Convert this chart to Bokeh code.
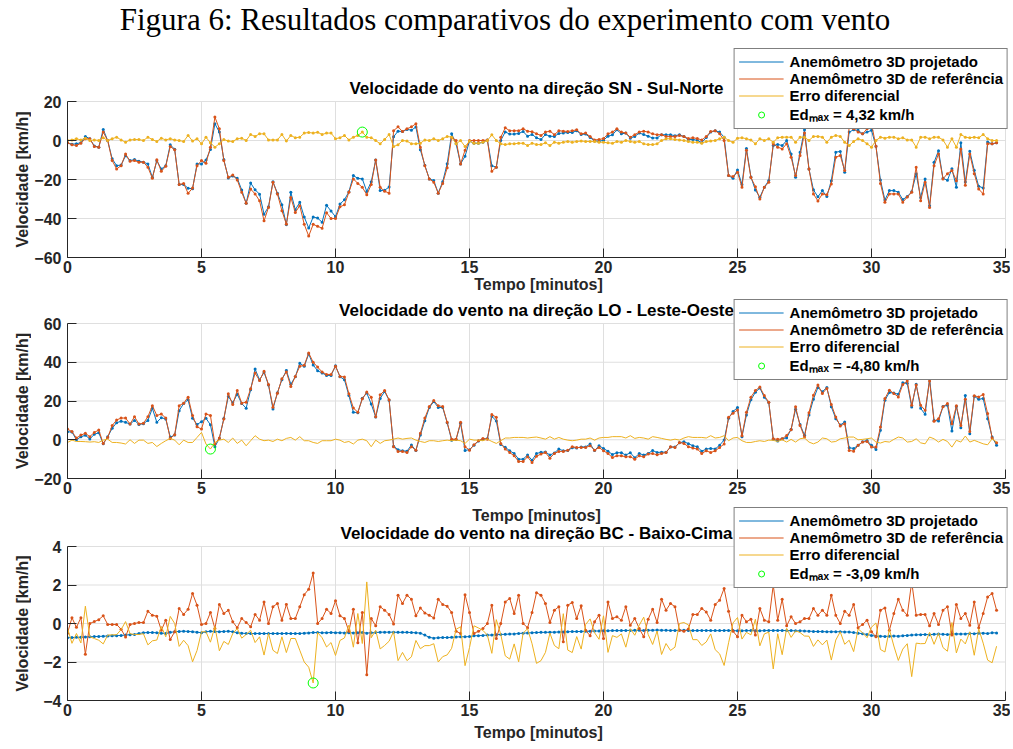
import math
import numpy as np
from bokeh.plotting import figure
from bokeh.models import Range1d, FixedTicker, Legend, LegendItem, Label, Div
from bokeh.layouts import column, row
from bokeh.embed import file_html
from bokeh.resources import INLINE

FIG_TITLE = "Figura 6: Resultados comparativos do experimento com vento"
PANEL_TITLES = ["Velocidade do vento na direção SN - Sul-Norte",
                "Velocidade do vento na direção LO - Leste-Oeste",
                "Velocidade do vento na direção BC - Baixo-Cima"]
X_LABEL = "Tempo [minutos]"
Y_LABEL = "Velocidade [km/h]"
SERIES_NAMES = ["Anemômetro 3D projetado", "Anemômetro 3D de referência", "Erro diferencial"]
X_TICKS = [0, 5, 10, 15, 20, 25, 30, 35]
Y_TICKS = [[-60, -40, -20, 0, 20], [-20, 0, 20, 40, 60], [-4, -2, 0, 2, 4]]
Y_LIMITS = [(-60, 20), (-20, 60), (-4, 4)]
SAMPLE_PERIOD_S = 10

# ---------- Panel 1: SN ----------
sn_ref = [-1.2, -2.2, -2.6, -1.4, 0.9, 0.9, -3.1, -3.4, 4.3, 0.0,
          -10.3, -14.6, -12.9, -6.9, -10.6, -10.3, -11.1, -11.1, -13.7, -19.4,
          -9.9, -15.8, -13.2, -3.1, -4.8, -22.6, -22.0, -27.1, -24.4, -12.9,
          -10.3, -11.7, -3.4, 12.0, 6.0, -10.3, -18.9, -17.7, -20.2, -26.6,
          -32.2, -24.9, -27.4, -30.9, -41.2, -34.3, -21.4, -27.4, -36.0, -42.9,
          -29.2, -36.9, -33.4, -43.0, -49.0, -43.0, -44.0, -45.0, -37.0, -40.0,
          -40.0, -34.0, -33.0, -26.6, -19.7, -22.0, -24.0, -27.8, -22.6, -10.0,
          -24.0, -26.0, -27.0, 5.0, 7.0, 4.6, 6.0, 7.0, 8.6, -3.4,
          -13.0, -19.7, -21.4, -27.0, -22.0, -14.0, 1.7, 0.0, -12.0, -5.0,
          0.0, 0.0, 0.0, 0.0, 0.3, -15.8, -13.7, 1.7, 6.5, 5.0,
          5.0, 5.0, 6.0, 4.8, 4.5, 3.5, 2.6, 4.3, 4.8, 3.0,
          5.0, 4.8, 4.6, 5.0, 5.5, 3.4, 3.8, 2.0, 0.3, 0.5,
          1.0, 3.4, 4.3, 6.0, 4.3, 3.8, 1.7, 3.0, 4.3, 4.8,
          4.3, 3.4, 3.0, 3.0, 2.0, 2.0, 2.0, 2.6, 2.0, 1.0,
          1.4, 1.0, 0.3, 2.0, 4.6, 5.0, 3.4, 0.0, -18.0, -18.5,
          -16.3, -24.0, -5.0, -19.0, -23.7, -30.0, -24.0, -21.4, -1.7, -3.4,
          -4.3, -1.7, -8.6, -18.0, -7.7, 3.8, -14.6, -27.4, -31.0, -27.4,
          -27.8, -22.3, -8.6, -7.7, -15.4, 6.9, 6.0, 4.3, 3.4, 6.0,
          8.6, -3.0, -22.0, -31.7, -27.4, -27.4, -27.4, -31.7, -29.0, -26.6,
          -13.7, -30.9, -21.4, -34.3, -12.9, -6.9, -19.7, -17.0, -15.4, -20.6,
          -4.3, -23.0, -6.9, -17.0, -24.9, -27.4, -1.7, -1.7, -1.2]
sn_err = [0.0, 0.3, 0.9, 0.3, 1.2, 0.0, 0.3, 0.0, 1.4, 0.0,
          0.9, 1.7, 0.3, -0.9, 0.3, 0.5, 0.5, 0.0, 1.7, 0.5,
          -0.5, 1.2, 0.3, 0.9, 0.3, 0.0, -0.5, 2.6, -0.3, 0.9,
          -1.7, 1.7, -1.2, -3.4, -1.7, 0.5, -0.3, -0.5, 0.9, 1.2,
          0.0, 3.1, 2.1, 3.4, 3.4, 0.3, 0.3, 0.3, 3.1, -0.3,
          2.6, 1.4, 1.7, 3.8, 4.1, 3.8, 4.2, 3.1, 3.8, 3.8,
          0.9, 1.4, 2.6, 0.3, 1.7, 2.6, 4.32, 1.7, 1.4, 0.0,
          -1.7, 0.5, 3.1, -3.1, -2.2, 0.0, -0.3, -1.7, -1.7, -1.4,
          0.3, 0.0, 0.9, 0.0, 0.9, 2.1, 1.7, -1.7, 0.0, -3.1,
          -0.3, -1.4, -1.4, -0.9, 0.0, 2.9, 0.0, -1.7, -2.1, -1.7,
          -1.7, -1.4, -1.4, -2.6, -1.4, -2.1, -2.1, -1.2, -2.6, -0.9,
          -1.4, -0.9, -0.5, -0.9, -0.5, -0.3, -0.5, -0.5, -0.5, -0.9,
          -0.9, -1.2, -1.4, -0.5, -0.9, 0.0, -0.5, -0.9, -0.5, -1.7,
          -2.1, -2.1, -1.7, 0.0, 0.9, 0.9, 0.5, 0.3, 0.0, -0.5,
          -0.9, -0.9, -1.4, -0.5, -0.3, 0.0, 0.9, 1.7, 0.0, -0.9,
          1.2, 1.4, 0.9, 0.3, -1.7, 0.9, 0.0, 0.9, -0.9, 1.4,
          1.7, 1.7, 1.7, -0.9, 1.7, 1.7, 0.0, 2.1, 2.1, 1.7,
          -0.9, 1.7, 2.6, 2.1, -0.9, -2.6, -0.5, 0.9, 0.0, -1.7,
          -3.4, 0.0, 1.7, 1.2, 1.7, 1.7, 0.9, 1.4, 0.3, 0.3,
          -3.4, 1.7, 1.7, 0.9, 1.7, 1.7, 0.3, -3.4, 0.9, -3.4,
          3.1, 1.7, 1.4, 1.7, 1.4, 3.1, 0.9, 0.0, 0.0]
sn_proj = [-1.2, -1.9, -1.7, -1.1, 2.1, 0.9, -2.8, -3.4, 5.7, 0.0,
           -9.4, -12.9, -12.6, -7.8, -10.3, -9.8, -10.6, -11.1, -12.0, -18.9,
           -10.4, -14.6, -12.9, -2.2, -4.5, -22.6, -22.5, -24.5, -24.7, -12.0,
           -12.0, -10.0, -4.6, 8.6, 4.3, -9.8, -19.2, -18.2, -19.3, -25.4,
           -32.2, -21.8, -25.3, -27.5, -37.8, -34.0, -21.1, -27.1, -32.9, -43.2,
           -26.6, -35.5, -31.7, -39.2, -44.9, -39.2, -39.8, -41.9, -33.2, -36.2,
           -39.1, -32.6, -30.4, -26.3, -18.0, -19.4, -19.68, -26.1, -21.2, -10.0,
           -25.7, -25.5, -23.9, 1.9, 4.8, 4.6, 5.7, 5.3, 6.9, -4.8,
           -12.7, -19.7, -20.5, -27.0, -21.1, -11.9, 3.4, -1.7, -12.0, -8.1,
           -0.3, -1.4, -1.4, -0.9, 0.3, -12.9, -13.7, 0.0, 4.4, 3.3,
           3.3, 3.6, 4.6, 2.2, 3.1, 1.4, 0.5, 3.1, 2.2, 2.1,
           3.6, 3.9, 4.1, 4.1, 5.0, 3.1, 3.3, 1.5, -0.2, -0.4,
           0.1, 2.2, 2.9, 5.5, 3.4, 3.8, 1.2, 2.1, 3.8, 3.1,
           2.2, 1.3, 1.3, 3.0, 2.9, 2.9, 2.5, 2.9, 2.0, 0.5,
           0.5, 0.1, -1.1, 1.5, 4.3, 5.0, 4.3, 1.7, -18.0, -19.4,
           -15.1, -22.6, -4.1, -18.7, -25.4, -29.1, -24.0, -20.5, -2.6, -2.0,
           -2.6, 0.0, -6.9, -18.9, -6.0, 5.5, -14.6, -25.3, -28.9, -25.7,
           -28.7, -20.6, -6.0, -5.6, -16.3, 4.3, 5.5, 5.2, 3.4, 4.3,
           5.2, -3.0, -20.3, -30.5, -25.7, -25.7, -26.5, -30.3, -28.7, -26.3,
           -17.1, -29.2, -19.7, -33.4, -11.2, -5.2, -19.4, -20.4, -14.5, -24.0,
           -1.2, -21.3, -5.5, -15.3, -23.5, -24.3, -0.8, -1.7, -1.2]

# ---------- Panel 2: LO ----------
lo_ref = [5.5, 4.2, 0.9, 2.4, 3.3, 1.6, 3.8, 5.0, -1.9, 1.2,
          7.3, 10.2, 11.2, 11.2, 8.1, 11.9, 8.1, 8.5, 11.9, 17.6,
          12.5, 13.3, 11.2, 0.7, 2.6, 17.6, 18.9, 22.0, 12.5, 6.7,
          5.5, 13.3, 12.5, -2.2, 0.9, 10.7, 23.7, 18.2, 25.4, 18.9,
          19.4, 26.3, 34.4, 30.6, 35.3, 28.5, 16.8, 24.0, 31.5, 35.0,
          27.5, 32.7, 37.9, 38.4, 44.8, 40.0, 37.5, 35.0, 33.7, 33.7,
          37.9, 32.7, 32.4, 23.7, 16.4, 14.2, 21.1, 24.6, 22.0, 11.9,
          23.2, 25.4, 20.6, -3.6, -6.0, -6.0, -6.6, -3.6, -5.4, 3.3,
          11.2, 17.1, 20.2, 17.6, 17.1, 9.0, 0.3, 0.3, 9.0, -3.6,
          -5.4, -2.6, -0.5, 0.7, 0.3, 13.0, 11.6, -1.9, -4.8, -6.6,
          -8.3, -11.2, -11.2, -8.8, -11.8, -8.5, -7.4, -6.6, -9.5, -7.1,
          -6.0, -6.0, -5.4, -3.6, -4.0, -4.0, -4.0, -3.1, -5.4, -4.0,
          -5.7, -7.1, -9.2, -8.3, -8.3, -8.8, -8.8, -10.0, -8.3, -8.8,
          -7.4, -7.1, -7.8, -7.1, -6.6, -3.6, -4.0, -1.4, -1.9, -3.6,
          -4.3, -4.8, -7.1, -5.7, -6.6, -5.7, -4.0, -2.2, 11.6, 13.7,
          15.4, 2.1, 14.2, 22.0, 25.4, 27.2, 22.8, 19.4, 0.5, 0.2,
          0.5, 2.2, 5.2, 17.0, 7.4, 1.4, 14.0, 23.0, 28.2, 23.9,
          26.5, 18.2, 11.8, 7.1, 8.3, -5.5, -5.9, -2.9, -1.2, -0.9,
          -3.8, -3.8, 6.6, 21.3, 25.6, 23.9, 22.1, 28.5, 30.3, 17.8,
          28.2, 17.8, 15.2, 30.3, 9.5, 10.9, 17.0, 18.7, 8.3, 17.5,
          7.4, 20.9, 4.3, 22.7, 22.1, 23.4, 13.5, 0.9, -1.6]
lo_err = [-1.4, -0.2, -0.9, -0.9, -1.0, -1.2, -1.0, -1.4, -0.2, 0.3,
          -1.4, -1.4, -1.7, -2.2, 0.0, -1.9, -0.2, -0.2, -1.9, -1.4,
          -3.5, -1.9, -0.5, 0.7, -0.2, -2.6, -0.2, -1.4, -1.4, 1.2,
          3.8, -2.2, -4.8, -1.4, -0.2, 0.3, -1.4, 0.9, -1.9, -0.2,
          -3.1, -0.5, 2.1, 0.3, -0.5, -0.2, -0.9, 0.3, -0.5, 0.7,
          1.2, -0.2, 1.6, -0.5, -0.5, -1.4, -1.9, -0.5, -0.5, -0.5,
          0.3, -0.2, -1.4, -0.9, -2.2, -0.2, 0.3, -0.5, -3.6, -0.2,
          -1.9, -0.5, -0.2, 0.3, 0.9, 0.3, 0.7, 0.9, -0.2, -0.9,
          -1.4, -0.5, -0.5, -0.9, -0.5, -0.2, -0.5, -0.2, -0.5, -1.9,
          0.3, -0.2, -0.2, -0.5, 0.3, -0.9, -1.9, -0.5, 0.9, 0.9,
          1.2, 1.2, 1.2, 0.9, 1.2, 1.4, 0.9, 0.3, 1.6, 0.3,
          1.2, 0.3, -0.2, -0.5, -0.2, 0.3, 0.3, 0.9, -0.2, 0.9,
          1.2, 1.2, 1.6, 1.6, 1.6, 0.9, 2.1, 0.7, 1.2, 0.9,
          0.3, 1.6, 1.2, 0.7, 0.2, -0.2, 0.3, -0.2, 0.9, 1.6,
          1.2, 1.2, 1.2, 0.9, 2.1, 0.9, 1.2, 2.1, -0.5, 0.9,
          1.2, -0.5, -1.4, -1.4, -0.9, -0.5, -0.9, -0.2, -0.3, -0.9,
          0.0, -1.2, 0.2, -1.2, 0.5, 0.9, -1.2, -2.1, -1.2, 0.9,
          0.5, -1.2, -0.9, 0.5, 0.9, 1.4, 1.4, 0.0, 0.2, 0.5,
          0.9, -1.2, -1.7, -0.9, -1.2, 0.2, 1.4, 0.9, -1.2, -0.9,
          0.5, -1.6, -2.1, 1.4, 0.5, -1.2, 0.2, -0.9, -3.8, -0.3,
          -1.2, 1.9, -1.2, -0.3, -1.2, -2.1, -2.6, 0.5, -1.2]
lo_proj = [4.1, 4.0, 0.0, 1.5, 2.3, 0.4, 2.8, 3.6, -2.1, 1.5,
           5.9, 8.8, 9.5, 9.0, 8.1, 10.0, 7.9, 8.3, 10.0, 16.2,
           9.0, 11.4, 10.7, 1.4, 2.4, 15.0, 18.7, 20.6, 11.1, 7.9,
           9.3, 11.1, 7.7, -3.6, 0.7, 11.0, 22.3, 19.1, 23.5, 18.7,
           16.3, 25.8, 36.5, 30.9, 34.8, 28.3, 15.9, 24.3, 31.0, 35.7,
           28.7, 32.5, 39.5, 37.9, 44.3, 38.6, 35.6, 34.5, 33.2, 33.2,
           38.2, 32.5, 31.0, 22.8, 14.2, 14.0, 21.4, 24.1, 18.4, 11.7,
           21.3, 24.9, 20.4, -3.3, -5.1, -5.7, -5.9, -2.7, -5.6, 2.4,
           9.8, 16.6, 19.7, 16.7, 16.6, 8.8, -0.2, 0.1, 8.5, -5.5,
           -5.1, -2.8, -0.7, 0.2, 0.6, 12.1, 9.7, -2.4, -3.9, -5.7,
           -7.1, -10.0, -10.0, -7.9, -10.6, -7.1, -6.5, -6.3, -7.9, -6.8,
           -4.8, -5.7, -5.6, -4.1, -4.2, -3.7, -3.7, -2.2, -5.6, -3.1,
           -4.5, -5.9, -7.6, -6.7, -6.7, -7.9, -6.7, -9.3, -7.1, -7.9,
           -7.1, -5.5, -6.6, -6.4, -6.4, -3.8, -3.7, -1.6, -1.0, -2.0,
           -3.1, -3.6, -5.9, -4.8, -4.5, -4.8, -2.8, -0.1, 11.1, 14.6,
           16.6, 1.6, 12.8, 20.6, 24.5, 26.7, 21.9, 19.2, 0.2, -0.7,
           0.5, 1.0, 5.4, 15.8, 7.9, 2.3, 12.8, 20.9, 27.0, 24.8,
           27.0, 17.0, 10.9, 7.6, 9.2, -4.1, -4.5, -2.9, -1.0, -0.4,
           -2.9, -5.0, 4.9, 20.4, 24.4, 24.1, 23.5, 29.4, 29.1, 16.9,
           28.7, 16.2, 13.1, 31.7, 10.0, 9.7, 17.2, 17.8, 4.5, 17.2,
           6.2, 22.8, 3.1, 22.4, 20.9, 21.3, 10.9, 1.4, -2.8]

# ---------- Panel 3: BC ----------
bc_ref = [-0.50, 0.30, -0.20, 0.30, -1.60, 0.00, 0.10, 0.20, 0.40, -0.05,
          -0.05, -0.05, -0.30, -0.70, -0.05, 0.00, 0.05, 0.05, 0.64, 0.43,
          0.38, -0.35, 0.17, -0.83, -0.43, 0.78, 0.47, 0.74, 1.56, 0.95,
          -0.05, 0.00, 0.57, -0.26, 0.99, 0.52, 0.69, 0.09, -0.22, 0.26,
          0.05, -0.17, 0.47, 0.17, 1.12, 0.00, 0.87, 1.04, 0.17, 0.99,
          0.26, 0.26, 0.87, 1.50, 1.78, 2.62, 0.00, 0.26, 0.74, 0.52,
          1.18, 0.40, 0.26, -0.40, 0.74, -1.00, 0.57, -2.66, 0.26, -0.12,
          0.87, 0.69, 0.47, -0.03, 1.47, 1.04, 1.47, 1.26, 0.40, 0.81,
          0.55, 0.43, 0.29, 1.26, 0.99, 0.90, 0.57, -0.40, -0.52, 1.50,
          0.57, -0.52, -0.40, -0.26, 0.00, 0.95, -0.78, 0.00, 1.12, 1.30,
          0.52, 1.47, 0.00, -0.22, 0.57, 1.60, 1.47, 1.04, 0.05, 0.69,
          0.87, -0.95, 0.95, 1.09, 0.26, 0.92, -0.35, -0.64, 0.09, 0.43,
          -0.78, 1.12, 0.26, 0.35, 0.17, 0.87, -0.09, 0.26, -0.26, -0.69,
          0.22, 0.74, 0.05, 1.26, 0.69, 1.04, 0.87, -0.35, -0.40, -0.29,
          0.47, 0.47, 0.78, 0.60, 0.17, 0.99, 1.21, 1.82, 0.64, -0.40,
          -0.69, 0.43, 0.09, 0.22, -0.60, 0.78, 0.17, 0.09, 2.00, 0.17,
          1.26, -0.12, 0.35, 0.00, 0.09, 0.26, 0.26, 0.78, 0.43, 0.69,
          0.43, 1.47, 0.43, 0.00, 0.64, 0.43, 0.99, -0.22, -0.05, 0.17,
          -0.43, -0.69, 0.69, 0.81, -0.35, 0.52, 1.26, 0.69, 0.43, 2.16,
          0.43, 0.47, 0.47, -0.12, 0.52, -0.05, 0.69, 0.87, -0.60, 0.99,
          0.26, 0.52, -0.09, 1.12, -0.22, 0.52, 1.38, 1.56, 0.69]
bc_proj = [-0.74, -0.73, -0.72, -0.71, -0.70, -0.69, -0.68, -0.67, -0.66, -0.65,
           -0.64, -0.63, -0.62, -0.60, -0.58, -0.57, -0.52, -0.48, -0.47, -0.47,
           -0.48, -0.50, -0.52, -0.46, -0.43, -0.41, -0.40, -0.41, -0.43, -0.45,
           -0.48, -0.43, -0.40, -0.42, -0.43, -0.41, -0.40, -0.43, -0.48, -0.50,
           -0.52, -0.52, -0.52, -0.52, -0.52, -0.52, -0.52, -0.52, -0.52, -0.52,
           -0.52, -0.52, -0.52, -0.50, -0.49, -0.47, -0.47, -0.48, -0.48, -0.47,
           -0.48, -0.48, -0.49, -0.48, -0.49, -0.48, -0.47, -0.50, -0.48, -0.47,
           -0.45, -0.45, -0.45, -0.45, -0.46, -0.46, -0.46, -0.47, -0.48, -0.50,
           -0.60, -0.72, -0.76, -0.74, -0.73, -0.73, -0.72, -0.70, -0.69, -0.69,
           -0.68, -0.64, -0.63, -0.62, -0.60, -0.60, -0.58, -0.57, -0.56, -0.55,
           -0.54, -0.52, -0.50, -0.49, -0.48, -0.47, -0.46, -0.46, -0.45, -0.45,
           -0.44, -0.44, -0.43, -0.42, -0.42, -0.41, -0.40, -0.40, -0.39, -0.39,
           -0.38, -0.38, -0.37, -0.37, -0.37, -0.36, -0.36, -0.35, -0.35, -0.36,
           -0.35, -0.35, -0.34, -0.35, -0.35, -0.36, -0.36, -0.35, -0.35, -0.36,
           -0.37, -0.37, -0.36, -0.36, -0.37, -0.37, -0.37, -0.36, -0.36, -0.37,
           -0.38, -0.38, -0.37, -0.37, -0.38, -0.38, -0.37, -0.36, -0.36, -0.36,
           -0.36, -0.37, -0.37, -0.38, -0.38, -0.39, -0.40, -0.41, -0.42, -0.42,
           -0.43, -0.43, -0.43, -0.43, -0.44, -0.44, -0.47, -0.50, -0.53, -0.57,
           -0.62, -0.66, -0.66, -0.67, -0.66, -0.65, -0.66, -0.64, -0.62, -0.60,
           -0.59, -0.58, -0.57, -0.58, -0.56, -0.55, -0.56, -0.57, -0.55, -0.54,
           -0.55, -0.54, -0.52, -0.53, -0.50, -0.50, -0.52, -0.48, -0.49]
bc_err = [-0.24, -1.03, -0.52, -1.01, 0.90, -0.69, -0.78, -0.87, -1.06, -0.60,
          -0.59, -0.58, -0.32, 0.10, -0.53, -0.57, -0.57, -0.53, -1.11, -0.90,
          -0.86, -0.15, -0.69, 0.37, 0.00, -1.19, -0.87, -1.15, -1.99, -1.40,
          -0.43, -0.43, -0.97, -0.16, -1.42, -0.93, -1.09, -0.52, -0.26, -0.76,
          -0.57, -0.35, -0.99, -0.69, -1.64, -0.52, -1.39, -1.56, -0.69, -1.51,
          -0.78, -0.78, -1.39, -2.00, -2.27, -3.09, -0.47, -0.74, -1.22, -0.99,
          -1.66, -0.88, -0.75, -0.08, -1.23, 0.52, -1.04, 2.16, -0.74, -0.35,
          -1.32, -1.14, -0.92, -0.42, -1.93, -1.50, -1.93, -1.73, -0.88, -1.31,
          -1.15, -1.15, -1.05, -2.00, -1.72, -1.63, -1.29, -0.30, -0.17, -2.19,
          -1.25, -0.12, -0.23, -0.36, -0.60, -1.55, 0.20, -0.57, -1.68, -1.85,
          -1.06, -1.99, -0.50, -0.27, -1.05, -2.07, -1.93, -1.50, -0.50, -1.14,
          -1.31, 0.51, -1.38, -1.51, -0.68, -1.33, -0.05, 0.24, -0.48, -0.82,
          0.40, -1.50, -0.63, -0.72, -0.54, -1.23, -0.27, -0.61, -0.09, 0.33,
          -0.57, -1.09, -0.39, -1.61, -1.04, -1.40, -1.23, 0.00, 0.05, -0.07,
          -0.84, -0.84, -1.14, -0.96, -0.54, -1.36, -1.58, -2.18, -1.00, 0.03,
          0.31, -0.81, -0.46, -0.59, 0.22, -1.16, -0.54, -0.45, -2.36, -0.53,
          -1.62, -0.25, -0.72, -0.38, -0.47, -0.65, -0.66, -1.19, -0.85, -1.11,
          -0.86, -1.90, -0.86, -0.43, -1.08, -0.87, -1.46, -0.28, -0.48, -0.74,
          -0.19, 0.03, -1.35, -1.48, -0.31, -1.17, -1.92, -1.33, -1.05, -2.76,
          -1.02, -1.05, -1.04, -0.46, -1.08, -0.50, -1.25, -1.44, 0.05, -1.53,
          -0.81, -1.06, -0.43, -1.65, -0.28, -1.02, -1.90, -2.04, -1.18]

t = np.arange(len(sn_ref)) * SAMPLE_PERIOD_S / 60.0

BLUE, RED, YELLOW, GREEN = "#0072BD", "#D95319", "#EDB120", "#00FF00"
AX_COLOR = "#262626"
GRID_COLOR = "#dfdfdf"
FONT = "Liberation Sans"

# ---------- page geometry (pixels) ----------
TITLE_H = 40
YLAB_W = 31
PANEL_W = 979
DATA_LEFT, DATA_RIGHT, FRAME_RIGHT = 63, 1005, 1009
X_END = 35 * (FRAME_RIGHT - DATA_LEFT) / (DATA_RIGHT - DATA_LEFT)
# per panel: canvas top, canvas bottom, frame top, data top, data bottom, title y
GEOM = [dict(c0=40, c1=298, f0=47, d0=101, d1=257, ty=88),
        dict(c0=298, c1=503, f0=298, d0=323, d1=478, ty=310),
        dict(c0=503, c1=749, f0=506, d0=546, d1=700, ty=533)]
PREV_XLABEL_Y = 515   # x label of panel 2, drawn above panel 3


def py_to_data(idx, py):
    g = GEOM[idx]
    lo, hi = Y_LIMITS[idx]
    return hi + (g["d0"] - py) * (hi - lo) / (g["d1"] - g["d0"])


def make_panel(idx, proj, ref, err, err_markers, xlabel=True, tick_std=3, xlab_std=0,
               prev_xlabel=False):
    g = GEOM[idx]
    lo, hi = Y_LIMITS[idx]
    y_top = py_to_data(idx, g["f0"])
    p = figure(width=PANEL_W, height=g["c1"] - g["c0"],
               x_range=Range1d(0, X_END), y_range=Range1d(lo, y_top),
               output_backend="svg", toolbar_location=None,
               min_border_left=DATA_LEFT - YLAB_W, min_border_right=YLAB_W + PANEL_W - FRAME_RIGHT,
               min_border_top=g["f0"] - g["c0"], min_border_bottom=g["c1"] - g["d1"])
    p.outline_line_color = None
    p.xgrid.visible = False
    p.ygrid.visible = False
    for ax in (p.xaxis[0], p.yaxis[0]):
        ax.axis_line_color = AX_COLOR
        ax.axis_line_width = 1
        ax.major_tick_line_color = AX_COLOR
        ax.major_tick_in = 9
        ax.major_tick_out = 0
        ax.minor_tick_line_color = None
        ax.major_label_text_font = FONT
        ax.major_label_text_font_style = "bold"
        ax.major_label_text_font_size = "16px"
        ax.major_label_text_color = AX_COLOR
        ax.axis_label_text_font = FONT
        ax.axis_label_text_font_style = "bold"
        ax.axis_label_text_font_size = "16px"
        ax.axis_label_text_color = AX_COLOR
    p.xaxis.ticker = FixedTicker(ticks=X_TICKS)
    p.yaxis.ticker = FixedTicker(ticks=Y_TICKS[idx])
    p.xaxis.bounds = (0, 35)
    p.yaxis.bounds = (lo, hi)
    p.xaxis.major_label_standoff = tick_std
    p.yaxis.major_label_standoff = 6
    if xlabel:
        p.xaxis.axis_label = X_LABEL
        p.xaxis.axis_label_standoff = xlab_std

    # grid lines limited to the data box
    p.segment(x0=X_TICKS, y0=[lo] * len(X_TICKS), x1=X_TICKS, y1=[hi] * len(X_TICKS),
              line_color=GRID_COLOR, line_width=1)
    yt = Y_TICKS[idx]
    p.segment(x0=[0] * len(yt), y0=yt, x1=[35] * len(yt), y1=yt,
              line_color=GRID_COLOR, line_width=1)

    bl = p.line(t, proj, line_color=BLUE, line_width=1)
    p.scatter(t, proj, marker="circle", size=3, fill_color=BLUE, line_color=None)
    rl = p.line(t, ref, line_color=RED, line_width=1)
    p.scatter(t, ref, marker="circle", size=3, fill_color=RED, line_color=None)
    yl = p.line(t, err, line_color=YELLOW, line_width=1)
    if err_markers:
        p.scatter(t, err, marker="circle", size=3, fill_color=YELLOW, line_color=None)
    k = int(np.argmax(np.abs(np.array(err))))
    gc = p.scatter([t[k]], [err[k]], marker="circle", size=10, fill_color=None,
                   line_color=GREEN, line_width=1)
    ed_text = "Ed\u2098\u2090\u2093 = " + f"{err[k]:.2f}".replace(".", ",") + " km/h"

    p.add_layout(Label(x=17.5, y=py_to_data(idx, g["ty"]), text=PANEL_TITLES[idx],
                       text_align="center", text_baseline="middle", text_font=FONT,
                       text_font_style="bold", text_font_size="17px", text_color="black"))
    if prev_xlabel:
        p.add_layout(Label(x=17.5, y=py_to_data(idx, PREV_XLABEL_Y), text=X_LABEL,
                           text_align="center", text_baseline="middle", text_font=FONT,
                           text_font_style="bold", text_font_size="16px", text_color=AX_COLOR))

    legend = Legend(items=[LegendItem(label=SERIES_NAMES[0], renderers=[bl]),
                           LegendItem(label=SERIES_NAMES[1], renderers=[rl]),
                           LegendItem(label=SERIES_NAMES[2], renderers=[yl]),
                           LegendItem(label=ed_text, renderers=[gc])],
                    location="top_right", margin=1,
                    border_line_color="black", border_line_width=1,
                    background_fill_color="white", background_fill_alpha=1.0,
                    label_text_font=FONT, label_text_font_style="bold",
                    label_text_font_size="15px", label_text_color="black",
                    glyph_width=45, glyph_height=15, label_height=15, label_standoff=6,
                    spacing=0, padding=4)
    p.add_layout(legend)
    return p


title_div = Div(text=FIG_TITLE, width=YLAB_W + PANEL_W, height=TITLE_H, margin=0,
                styles={"font-family": "'Liberation Serif', 'Times New Roman', serif",
                        "font-size": "31px", "text-align": "center",
                        "line-height": f"{TITLE_H}px", "color": "black",
                        "white-space": "nowrap"})

p1 = make_panel(0, sn_proj, sn_ref, sn_err, err_markers=True)
p2 = make_panel(1, lo_proj, lo_ref, lo_err, err_markers=False, xlabel=False)
p3 = make_panel(2, bc_proj, bc_ref, bc_err, err_markers=False, xlab_std=5, prev_xlabel=True)

# y-axis titles, in a narrow strip at the left of the three panels
total_h = GEOM[2]["c1"] - GEOM[0]["c0"]
ylab = figure(width=YLAB_W, height=total_h, x_range=Range1d(0, YLAB_W),
              y_range=Range1d(total_h, 0), output_backend="svg", toolbar_location=None,
              min_border=0, x_axis_type=None, y_axis_type=None)
ylab.outline_line_color = None
ylab.xgrid.visible = False
ylab.ygrid.visible = False
for g in GEOM:
    ylab.add_layout(Label(x=22, y=(g["d0"] + g["d1"]) / 2 - GEOM[0]["c0"], text=Y_LABEL,
                          angle=math.pi / 2, text_align="center", text_baseline="middle",
                          text_font=FONT, text_font_style="bold", text_font_size="16px",
                          text_color=AX_COLOR))

layout = column(title_div, row(ylab, column(p1, p2, p3, spacing=0), spacing=0), spacing=0)
open("out.html", "w").write(file_html(layout, INLINE))
